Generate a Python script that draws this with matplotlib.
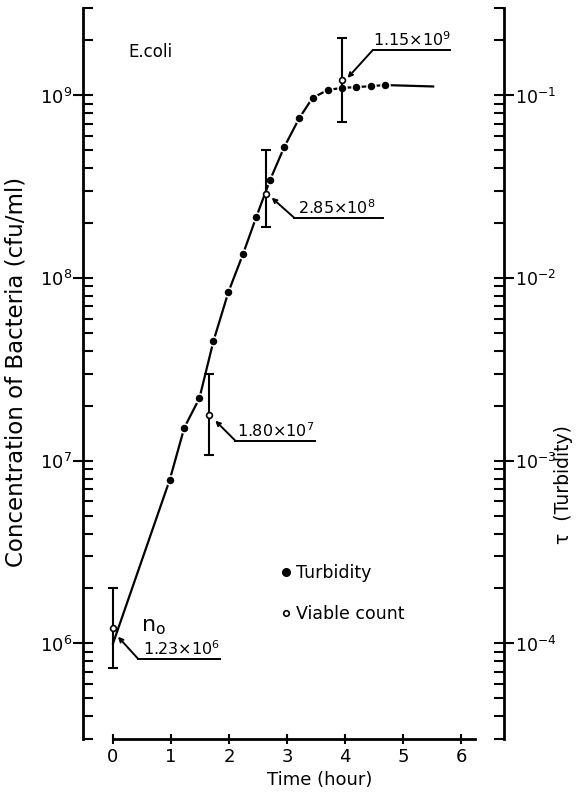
import numpy as np
import matplotlib
matplotlib.use("Agg")
import matplotlib.pyplot as plt
from matplotlib.lines import Line2D
from matplotlib.ticker import LogLocator, NullFormatter

plt.rcParams["font.family"] = ["DejaVu Sans"]
plt.rcParams["mathtext.default"] = "regular"
plt.rcParams["axes.unicode_minus"] = False

# Turbidity (filled points)
turb_t = [0.98, 1.23, 1.49, 1.73, 1.99, 2.24, 2.47, 2.71, 2.95, 3.21, 3.44, 3.70, 3.94, 4.19, 4.45, 4.69]
turb_c = [7.9e6, 1.52e7, 2.2e7, 4.5e7, 8.4e7, 1.35e8, 2.16e8, 3.46e8,
          5.2e8, 7.5e8, 9.7e8, 1.07e9, 1.10e9, 1.11e9, 1.125e9, 1.14e9]

# Drawn growth curve: starts at n0, runs through the turbidity points, then plateau
curve_t = [0.0] + turb_t + [5.52]
curve_c = [1.0e6] + turb_c + [1.12e9]

# Viable count (open circles) with error bars
viable_t = [0.0, 1.66, 2.64, 3.94]
viable_c = [1.22e6, 1.79e7, 2.9e8, 1.21e9]
viable_lo = [7.3e5, 1.07e7, 1.9e8, 7.2e8]
viable_hi = [2.02e6, 3.0e7, 5.0e8, 2.06e9]
viable_labels = ["1.23×10$^{6}$", "1.80×10$^{7}$", "2.85×10$^{8}$", "1.15×10$^{9}$"]

x_ticks = [0, 1, 2, 3, 4, 5, 6]

fig = plt.figure(figsize=(5.76, 7.96), dpi=100)
ax = fig.add_axes([83 / 576, 57 / 796, 421 / 576, 730.7 / 796])
ax.set_yscale("log")
ax.set_xlim(-0.517, 6.741)
ax.set_ylim(3e5, 3e9)

ax2 = ax.twinx()
ax2.set_yscale("log")
ax2.set_ylim(3e-5, 3e-1)

# spines
for s in ["top", "right"]:
    ax.spines[s].set_visible(False)
for s in ["top", "left", "bottom"]:
    ax2.spines[s].set_visible(False)
ax.spines["bottom"].set_bounds(0, 6.24)
for sp in [ax.spines["left"], ax.spines["bottom"], ax2.spines["right"]]:
    sp.set_linewidth(2)

# ticks
ax.set_xticks(x_ticks)
ax.tick_params(axis="x", direction="inout", length=7, width=1.5, labelsize=13, pad=3)
for a, lsize in ((ax, 13), (ax2, 12.5)):
    a.yaxis.set_major_locator(LogLocator(base=10, numticks=10))
    a.yaxis.set_minor_locator(LogLocator(base=10, subs=np.arange(2, 10), numticks=20))
    a.yaxis.set_minor_formatter(NullFormatter())
    a.tick_params(axis="y", which="major", direction="inout", length=14, width=1.5, labelsize=lsize, pad=1)
    a.tick_params(axis="y", which="minor", direction="in", length=7, width=1.5)

# curve + turbidity points (white rim gives the gaps in the line)
ax.plot(curve_t, curve_c, color="black", lw=1.6, zorder=2)
ax.plot(turb_t, turb_c, ls="none", marker="o", ms=6.5, mfc="black",
        mec="white", mew=1.1, zorder=3)

# viable counts
yerr = [np.array(viable_c) - np.array(viable_lo), np.array(viable_hi) - np.array(viable_c)]
ax.errorbar(viable_t, viable_c, yerr=yerr, fmt="none", ecolor="black",
            elinewidth=1.5, capsize=3.5, capthick=1.5, zorder=4)
ax.plot(viable_t, viable_c, ls="none", marker="o", ms=4.2, mfc="white",
        mec="black", mew=1.2, zorder=5)

# leader lines with underlined values (pixel offsets from the point, y downwards)
leader_start = [(5, 9), (6, 6), (5.5, 4), (6, -2.4)]
leader_elbow = [(25, 31), (26, 26), (28, 24), (31, -30)]
underline_end = [107, 106, 117, 108]
text_off = [(30, 27), (28, 22), (32, 20), (31, -34)]

for t, c, lab, st, el, ue, to in zip(viable_t, viable_c, viable_labels,
                                     leader_start, leader_elbow, underline_end, text_off):
    px, py = ax.transData.transform((t, c))
    verts = np.array([[px + st[0], py - st[1]],
                      [px + el[0], py - el[1]],
                      [px + ue, py - el[1]],
                      [px + to[0], py - to[1]]])
    d = ax.transData.inverted().transform(verts)
    ax.plot(d[1:3, 0], d[1:3, 1], color="black", lw=1.4, zorder=3)
    ax.annotate("", xy=d[0], xytext=d[1],
                arrowprops=dict(arrowstyle="->", lw=1.4, color="black",
                                shrinkA=0, shrinkB=0, mutation_scale=7))
    ax.text(d[3, 0], d[3, 1], lab, fontsize=11.5, ha="left", va="baseline")

# n0 marker text
px, py = ax.transData.transform((viable_t[0], viable_c[0]))
nx, ny = ax.transData.inverted().transform((px + 28, py + 1))
ax.text(nx, ny, "n$_{o}$", fontsize=16, ha="left", va="center")

ax.text(0.26, 1.73e9, "E.coli", fontsize=12, ha="left", va="center")

# legend
handles = [Line2D([], [], ls="none", marker="o", ms=5.5, mfc="black", mec="black"),
           Line2D([], [], ls="none", marker="o", ms=4, mfc="white", mec="black", mew=1.2)]
ax.legend(handles, ["Turbidity", "Viable count"], loc="upper left",
          bbox_to_anchor=(0.470, 0.240), frameon=False, fontsize=12.5,
          handlelength=0.6, handletextpad=0.3, borderpad=0, borderaxespad=0,
          labelspacing=1.37)

ax.set_xlabel("Time (hour)", fontsize=13)
ax.xaxis.set_label_coords(0.563, -0.044)
ax.set_ylabel("Concentration of Bacteria (cfu/ml)", fontsize=16.5)
ax.yaxis.set_label_coords(-0.131, 0.502)
ax2.set_ylabel("τ  (Turbidity)", fontsize=13.5, rotation=90)
ax2.yaxis.set_label_coords(1.118, 0.348)

fig.savefig("out.png", dpi=100)
